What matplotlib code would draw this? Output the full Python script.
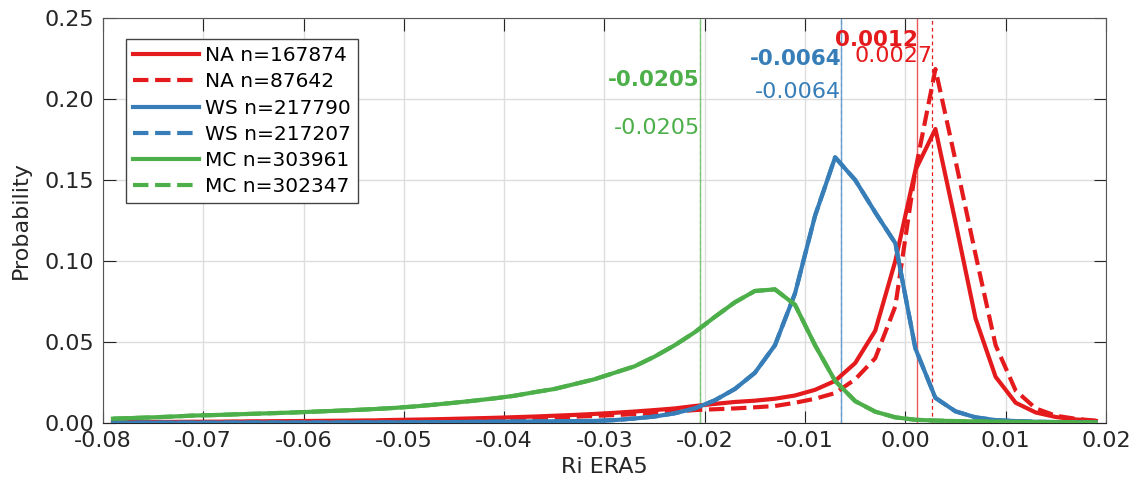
import matplotlib.pyplot as plt


RED = "#e41a1c"
BLUE = "#377eb8"
GREEN = "#4daf4a"

# lighter versions for the thin median lines
RED_LINE = "#e85a5c"
BLUE_LINE = "#6a9fcb"
GREEN_LINE = "#80c47d"

# bin centres of the Ri histogram
ri_bins = [
    -0.079, -0.077, -0.075, -0.073, -0.071, -0.069, -0.067, -0.065, -0.063, -0.061,
    -0.059, -0.057, -0.055, -0.053, -0.051, -0.049, -0.047, -0.045, -0.043, -0.041,
    -0.039, -0.037, -0.035, -0.033, -0.031, -0.029, -0.027, -0.025, -0.023, -0.021,
    -0.019, -0.017, -0.015, -0.013, -0.011, -0.009, -0.007, -0.005, -0.003, -0.001,
    0.001, 0.003, 0.005, 0.007, 0.009, 0.011, 0.013, 0.015, 0.017, 0.019,
]

na_solid = [
    0.0006, 0.0006, 0.0007, 0.0007, 0.0008, 0.0008, 0.0009, 0.0010, 0.0011, 0.0012,
    0.0013, 0.0014, 0.0015, 0.0016, 0.0019, 0.0021, 0.0023, 0.0026, 0.0029, 0.0032,
    0.0036, 0.0040, 0.0045, 0.0050, 0.0056, 0.0063, 0.0071, 0.0080, 0.0090, 0.0105,
    0.0118, 0.0130, 0.0138, 0.0150, 0.0170, 0.0205, 0.0260, 0.0370, 0.0570, 0.1000,
    0.1560, 0.1815, 0.1240, 0.0645, 0.0285, 0.0125, 0.0065, 0.0037, 0.0022, 0.0013,
]
na_dashed = [
    0.0004, 0.0004, 0.0005, 0.0005, 0.0006, 0.0006, 0.0007, 0.0008, 0.0008, 0.0009,
    0.0010, 0.0011, 0.0012, 0.0013, 0.0015, 0.0016, 0.0018, 0.0020, 0.0022, 0.0025,
    0.0028, 0.0031, 0.0035, 0.0039, 0.0044, 0.0049, 0.0055, 0.0062, 0.0070, 0.0080,
    0.0085, 0.0090, 0.0097, 0.0105, 0.0125, 0.0150, 0.0185, 0.0270, 0.0400, 0.0720,
    0.1560, 0.2185, 0.1620, 0.1040, 0.0480, 0.0200, 0.0090, 0.0045, 0.0026, 0.0014,
]
ws_solid = [
    0.0002, 0.0002, 0.0002, 0.0002, 0.0002, 0.0002, 0.0003, 0.0003, 0.0003, 0.0003,
    0.0003, 0.0003, 0.0004, 0.0004, 0.0004, 0.0005, 0.0005, 0.0006, 0.0007, 0.0008,
    0.0009, 0.0010, 0.0011, 0.0012, 0.0013, 0.0018, 0.0028, 0.0040, 0.0060, 0.0090,
    0.0140, 0.0210, 0.0310, 0.0480, 0.0800, 0.1280, 0.1640, 0.1500, 0.1300, 0.1110,
    0.0460, 0.0155, 0.0072, 0.0035, 0.0018, 0.0012, 0.0008, 0.0006, 0.0005, 0.0004,
]
ws_dashed = list(ws_solid)
mc_solid = [
    0.0027, 0.0031, 0.0035, 0.0040, 0.0046, 0.0049, 0.0053, 0.0057, 0.0061, 0.0065,
    0.0070, 0.0075, 0.0080, 0.0086, 0.0093, 0.0102, 0.0113, 0.0125, 0.0138, 0.0152,
    0.0168, 0.0190, 0.0210, 0.0240, 0.0270, 0.0310, 0.0350, 0.0410, 0.0480, 0.0560,
    0.0655, 0.0745, 0.0815, 0.0825, 0.0730, 0.0480, 0.0260, 0.0135, 0.0070, 0.0035,
    0.0020, 0.0015, 0.0012, 0.0010, 0.0008, 0.0007, 0.0006, 0.0005, 0.0004, 0.0003,
]
mc_dashed = list(mc_solid)

labels = ["NA n=167874", "NA n=87642", "WS n=217790", "WS n=217207",
          "MC n=303961", "MC n=302347"]
colors = [RED, RED, BLUE, BLUE, GREEN, GREEN]
line_colors = [RED_LINE, RED, BLUE_LINE, BLUE_LINE, GREEN_LINE, GREEN_LINE]

# medians for each region (solid / dashed)
medians = [0.0012, 0.0027, -0.0064, -0.0064, -0.0205, -0.0205]
median_text = ["0.0012", "0.0027", "-0.0064", "-0.0064", "-0.0205", "-0.0205"]
median_text_y = [0.2365, 0.2266, 0.2248, 0.2044, 0.2118, 0.1823]

xticks = [-0.08, -0.07, -0.06, -0.05, -0.04, -0.03, -0.02, -0.01, 0.0, 0.01, 0.02]
xtick_labels = ["-0.08", "-0.07", "-0.06", "-0.05", "-0.04", "-0.03",
                "-0.02", "-0.01", "0.00", "0.01", "0.02"]
yticks = [0.0, 0.05, 0.10, 0.15, 0.20, 0.25]
ytick_labels = ["0.00", "0.05", "0.10", "0.15", "0.20", "0.25"]


def main() -> None:
    fig = plt.figure(figsize=(11.35, 4.92), dpi=100)
    ax = fig.add_axes([0.0907, 0.1402, 0.8837, 0.8232])

    series = [na_solid, na_dashed, ws_solid, ws_dashed, mc_solid, mc_dashed]
    styles = ["-", "--", "-", "--", "-", "--"]
    for values, style, color, label in zip(series, styles, colors, labels):
        ax.plot(ri_bins, values, linestyle=style, color=color, linewidth=3,
                label=label, zorder=3)

    for i, med in enumerate(medians):
        solid = i % 2 == 0
        # dashed median lines sit under the solid ones where they coincide
        ax.axvline(med, color=line_colors[i],
                   linestyle="-" if solid else (0, (3, 2.5)),
                   linewidth=1.0 if solid else 0.9,
                   zorder=2.2 if solid else 2.1)
        ax.text(med, median_text_y[i], median_text[i], color=colors[i],
                ha="right", va="center", fontsize=15.5 if solid else 16,
                fontweight="bold" if solid else "normal", zorder=4)

    ax.set_xlim(-0.08, 0.02)
    ax.set_ylim(0, 0.25)
    ax.set_xticks(xticks)
    ax.set_xticklabels(xtick_labels)
    ax.set_yticks(yticks)
    ax.set_yticklabels(ytick_labels)
    ax.tick_params(direction="in", length=9, width=0.8, labelsize=16,
                   colors="#262626", top=True, right=True, pad=6)
    ax.grid(True, color="#dddddd", linewidth=1)
    ax.set_axisbelow(True)
    for side in ["top", "right", "left"]:
        ax.spines[side].set_color("#555555")
    ax.spines["bottom"].set_color("#262626")

    ax.set_xlabel("Ri ERA5", fontsize=16, color="#262626", labelpad=4)
    ax.set_ylabel("Probability", fontsize=16, color="#262626", labelpad=10)

    leg = ax.legend(loc="upper left", bbox_to_anchor=(0.0229, 0.948),
                    borderaxespad=0, fontsize=14.5, handlelength=3.3,
                    handletextpad=0.3, labelspacing=0.36, borderpad=0.35,
                    fancybox=False, framealpha=1, edgecolor="#444444")
    leg.get_frame().set_linewidth(1)

    fig.savefig("out.png", dpi=100)


if __name__ == "__main__":
    main()
